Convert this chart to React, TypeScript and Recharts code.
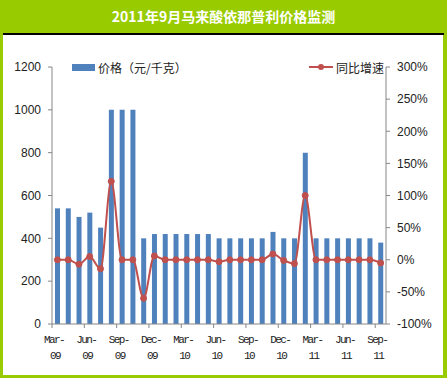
import React from "react";
import { ComposedChart, Bar, Line, XAxis, YAxis, Legend } from "recharts";

const months = [
  "Mar-09", "Apr-09", "May-09", "Jun-09", "Jul-09", "Aug-09", "Sep-09", "Oct-09", "Nov-09", "Dec-09",
  "Jan-10", "Feb-10", "Mar-10", "Apr-10", "May-10", "Jun-10", "Jul-10", "Aug-10", "Sep-10", "Oct-10",
  "Nov-10", "Dec-10", "Jan-11", "Feb-11", "Mar-11", "Apr-11", "May-11", "Jun-11", "Jul-11", "Aug-11",
  "Sep-11",
];
const prices = [
  540, 540, 500, 520, 450, 1000, 1000, 1000, 400, 420,
  420, 420, 420, 420, 420, 400, 400, 400, 400, 400,
  430, 400, 400, 800, 400, 400, 400, 400, 400, 400,
  380,
];
const growth = [
  0, 0, -7, 5, -14, 122, 0, 0, -60, 6,
  0, 0, 0, 0, 0, -3, 0, 0, 0, 0,
  9, -1, -6, 100, 0, 0, 0, 0, 0, 0,
  -5,
];
const priceTicks = [0, 200, 400, 600, 800, 1000, 1200];
const growthTicks = [-100, -50, 0, 50, 100, 150, 200, 250, 300];

const title = "2011年9月马来酸依那普利价格监测";
const priceName = "价格（元/千克）";
const growthName = "同比增速";

const data = months.map((m, i) => ({ month: m, price: prices[i], growth: growth[i] }));

const W = 440;
const H = 340;
const PLOT_W = 334;
const BAND = PLOT_W / months.length;
const AXIS = "#868686";
const BAR = "#4F81BD";
const RED = "#C0504D";
const CJK = "'Noto Sans CJK SC', sans-serif";

function MonthTick(props: any) {
  const { x, y, payload } = props;
  const [m, yy] = String(payload.value).split("-");
  const bx = x - BAND / 2;
  const font = { fontFamily: "'Liberation Mono', monospace", fontSize: 11, letterSpacing: -1.6, fill: "#222" };
  return (
    <g>
      <line x1={bx} x2={bx} y1={y - 4} y2={y} stroke={AXIS} />
      <text x={bx + 2} y={y + 15} textAnchor="middle" {...font}>{m + "-"}</text>
      <text x={bx + 3} y={y + 31} textAnchor="middle" {...font}>{yy}</text>
    </g>
  );
}

function LegendBox() {
  return (
    <div style={{ position: "relative", height: 16, fontFamily: CJK, fontSize: 12, color: "#222" }}>
      <div style={{ position: "absolute", left: 69, top: 0, display: "flex", alignItems: "center", height: 16 }}>
        <span style={{ display: "inline-block", width: 23, height: 7, background: BAR, marginRight: 3 }} />
        <span>{priceName}</span>
      </div>
      <div style={{ position: "absolute", left: 306, top: 0, display: "flex", alignItems: "center", height: 16 }}>
        <svg width={25} height={8} style={{ marginRight: 2 }}>
          <line x1={0} x2={24} y1={4} y2={4} stroke={RED} strokeWidth={2} />
          <circle cx={12} cy={4} r={3} fill={RED} />
        </svg>
        <span>{growthName}</span>
      </div>
    </div>
  );
}

export default function App() {
  const tickFont = { fontFamily: "'Liberation Sans', Arial, sans-serif", fontSize: 12, fill: "#222" };
  return (
    <div style={{ position: "fixed", left: 0, top: 0, width: 447, height: 378, background: "#99CC00" }}>
      <div
        style={{
          position: "absolute", left: 0, top: 0, width: 447, height: 33, lineHeight: "33px",
          textAlign: "center", color: "#fff", fontWeight: "bold", fontSize: 14, fontFamily: CJK,
        }}
      >
        {title}
      </div>
      <div style={{ position: "absolute", left: 3, top: 33, width: 441, height: 2, background: "#000" }} />
      <div style={{ position: "absolute", left: 3, top: 35, width: W, height: H, background: "#fff" }}>
        <ComposedChart width={W} height={H} data={data} margin={{ top: 32, right: 7, left: 9, bottom: 11 }}>
          <XAxis
            dataKey="month"
            interval={2}
            height={40}
            stroke={AXIS}
            tickLine={false}
            tickSize={4}
            tickMargin={0}
            tick={<MonthTick />}
          />
          <YAxis
            yAxisId="left"
            width={40}
            domain={[0, 1200]}
            ticks={priceTicks}
            stroke={AXIS}
            tickSize={4}
            tickMargin={7}
            tick={tickFont}
          />
          <YAxis
            yAxisId="right"
            orientation="right"
            width={50}
            domain={[-100, 300]}
            ticks={growthTicks}
            stroke={AXIS}
            tickSize={4}
            tickMargin={7}
            tick={{ ...tickFont, textAnchor: "start" }}
            tickFormatter={(v: number) => `${v}%`}
          />
          <Legend
            verticalAlign="middle"
            wrapperStyle={{ top: 24, left: 0, width: W }}
            content={() => <LegendBox />}
          />
          <Bar yAxisId="left" dataKey="price" name={priceName} fill={BAR} barSize={5} isAnimationActive={false} />
          <Line
            yAxisId="right"
            dataKey="growth"
            name={growthName}
            type="monotone"
            stroke={RED}
            strokeWidth={2}
            dot={{ r: 3, fill: RED, stroke: RED, strokeWidth: 1 }}
            isAnimationActive={false}
          />
        </ComposedChart>
      </div>
    </div>
  );
}
